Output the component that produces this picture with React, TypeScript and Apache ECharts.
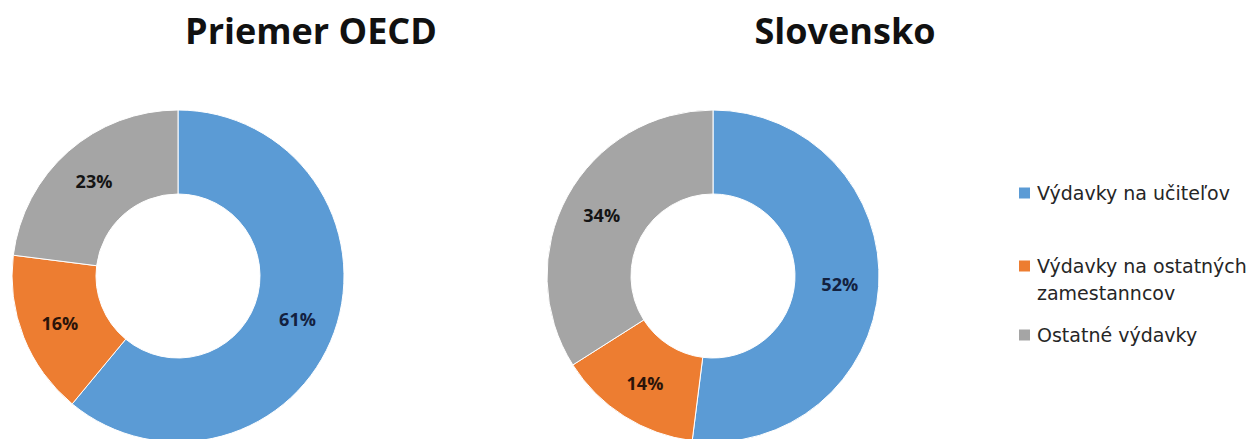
import React, { useEffect, useRef } from "react";
import * as echarts from "echarts";

// ---- data ----
const categories = ["Výdavky na učiteľov", "Výdavky na ostatných zamestanncov", "Ostatné výdavky"];
const legendLines = [["Výdavky na učiteľov"], ["Výdavky na ostatných", "zamestanncov"], ["Ostatné výdavky"]];
const oecdValues = [61, 16, 23];
const slovenskoValues = [52, 14, 34];
const chartTitles = ["Priemer OECD", "Slovensko"];

const palette = ["#5B9BD5", "#ED7D31", "#A5A5A5"];
const labelColors = ["#13213f", "#2b1409", "#141414"];

export default function App() {
  const ref = useRef<HTMLDivElement>(null);

  useEffect(() => {
    if (!ref.current) return;
    const chart = echarts.init(ref.current, undefined, { renderer: "svg" });

    const makeSeries = (name: string, values: number[], cx: number) => ({
      name,
      type: "pie",
      center: [cx, 276],
      radius: [82, 166],
      startAngle: 90,
      clockwise: true,
      avoidLabelOverlap: false,
      emphasis: { disabled: true },
      itemStyle: { borderColor: "#ffffff", borderWidth: 1 },
      label: {
        show: true,
        position: "inside",
        formatter: "{c}%",
        fontFamily: "Open Sans",
        fontWeight: "bold",
        fontSize: 18,
      },
      labelLine: { show: false },
      data: values.map((v, i) => ({
        name: categories[i],
        value: v,
        itemStyle: { color: palette[i] },
        label: { color: labelColors[i] },
      })),
    });

    const legendY = [193, 266, 335];
    const legendGraphics: any[] = [];
    legendLines.forEach((lines, i) => {
      legendGraphics.push({
        type: "rect",
        shape: { x: 1019, y: legendY[i] - 5.5, width: 11, height: 11 },
        style: { fill: palette[i] },
      });
      lines.forEach((ln, j) => {
        legendGraphics.push({
          type: "text",
          x: 1037,
          y: legendY[i] + j * 27,
          style: {
            text: ln,
            fill: "#262626",
            fontFamily: "DejaVu Sans",
            fontSize: 19,
            align: "left",
            verticalAlign: "middle",
          },
        });
      });
    });

    const titleX = [311, 845];
    const titleGraphics = chartTitles.map((t, i) => ({
      type: "text",
      x: titleX[i],
      y: 30,
      style: {
        text: t,
        fill: "#111111",
        fontFamily: "Open Sans",
        fontWeight: "bold",
        fontSize: 36,
        align: "center",
        verticalAlign: "middle",
      },
    }));

    chart.setOption({
      animation: false,
      backgroundColor: "#ffffff",
      series: [
        makeSeries(chartTitles[0], oecdValues, 178),
        makeSeries(chartTitles[1], slovenskoValues, 713),
      ],
      graphic: [...titleGraphics, ...legendGraphics],
    });

    return () => chart.dispose();
  }, []);

  return (
    <div
      ref={ref}
      style={{ position: "fixed", left: 0, top: 0, width: 1260, height: 439 }}
    />
  );
}
